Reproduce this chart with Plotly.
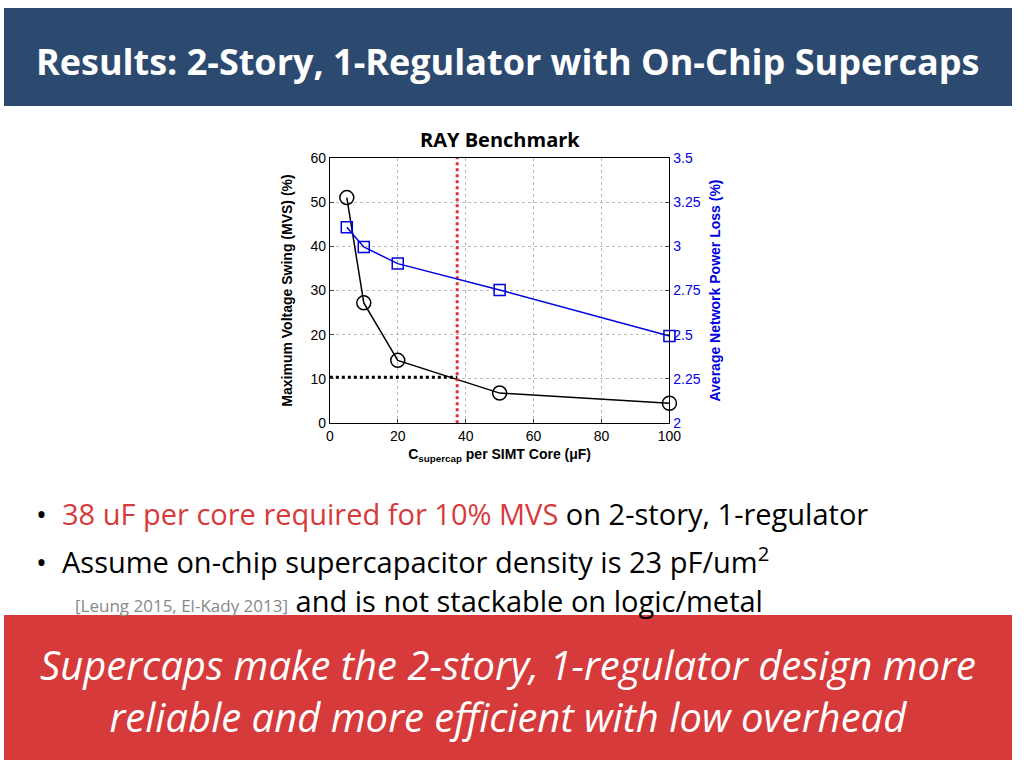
import plotly.graph_objects as go

cap = [5, 10, 20, 50, 100]
mvs = [51, 27.2, 14.2, 6.8, 4.5]
cap_b = [5, 10, 20, 50, 100]
loss = [3.107, 2.996, 2.902, 2.753, 2.493]
req_cap = 37.5
req_mvs = 10.4

W, H = 1024, 768
def px(x): return x / W
def py(y): return 1 - y / H

fig = go.Figure()
fig.add_trace(go.Scatter(x=cap, y=mvs, mode="lines+markers",
    line=dict(color="black", width=1.5),
    marker=dict(symbol="circle-open", size=14, color="black", line=dict(width=1.5)),
    yaxis="y", showlegend=False, cliponaxis=False))
fig.add_trace(go.Scatter(x=cap_b, y=loss, mode="lines+markers",
    line=dict(color="#0000E0", width=1.5),
    marker=dict(symbol="square-open", size=11, color="#0000E0", line=dict(width=1.5)),
    yaxis="y2", showlegend=False, cliponaxis=False))
fig.add_trace(go.Scatter(x=[req_cap, req_cap], y=[0, 60], mode="lines",
    line=dict(color="#E03030", width=3, dash="dot"), showlegend=False))
fig.add_trace(go.Scatter(x=[0, req_cap], y=[req_mvs, req_mvs], mode="lines",
    line=dict(color="black", width=3, dash="dot"), showlegend=False))

tf = dict(family="Arial", size=14, color="black")
fig.update_layout(
    width=W, height=H, margin=dict(l=0, r=0, t=0, b=0),
    paper_bgcolor="white", plot_bgcolor="white",
    xaxis=dict(domain=[px(331), px(676)], range=[0, 100], dtick=20,
        showgrid=True, gridcolor="#BBBBBB", griddash="dot", zeroline=False,
        showline=True, linecolor="black", mirror=True, ticks="inside", ticklen=4,
        tickfont=tf,
        title=dict(text="<b>C<sub>supercap</sub> per SIMT Core (μF)</b>", font=dict(family="Arial", size=14, color="black"), standoff=6)),
    yaxis=dict(domain=[py(424), py(153)], range=[0, 60], dtick=10,
        showgrid=True, gridcolor="#BBBBBB", griddash="dot", zeroline=False,
        showline=True, linecolor="black", ticks="inside", ticklen=4, tickfont=tf,
        title=dict(text="<b>Maximum Voltage Swing (MVS) (%)</b>", font=dict(family="Arial", size=14, color="black"), standoff=14)),
    yaxis2=dict(overlaying="y", side="right", anchor="x", range=[2, 3.5],
        tickvals=[2, 2.25, 2.5, 2.75, 3, 3.25, 3.5], ticktext=["2", "2.25", "2.5", "2.75", "3", "3.25", "3.5"],
        showgrid=False, zeroline=False, showline=True, linecolor="black",
        ticks="inside", ticklen=4, tickfont=dict(family="Arial", size=14, color="#0000E0"),
        title=dict(text="<b>Average Network Power Loss (%)</b>", font=dict(family="Arial", size=14, color="#0000E0"), standoff=10)),
    shapes=[
        dict(type="rect", xref="paper", yref="paper", x0=0, x1=1, y0=py(100), y1=1,
             fillcolor="#2C4A70", line=dict(width=0), layer="below"),
        dict(type="rect", xref="paper", yref="paper", x0=0, x1=1, y0=0, y1=py(620),
             fillcolor="#D63A3A", line=dict(width=0), layer="below"),
    ],
    annotations=[
        dict(text="<b>Results: 2-Story, 1-Regulator with On-Chip Supercaps</b>", x=0.5, y=py(55),
             xref="paper", yref="paper", yanchor="middle", showarrow=False, font=dict(family="Open Sans", size=36, color="white")),
        dict(text="<b>RAY Benchmark</b>", x=px(504), y=py(134), xref="paper", yref="paper", yanchor="middle", showarrow=False,
             font=dict(family="Open Sans", size=20, color="black")),
        dict(text="•  <span style='color:#D63A3A'>38 uF per core required for 10% MVS</span> on 2-story, 1-regulator",
             x=px(30), y=py(516), xref="paper", yref="paper", xanchor="left", yanchor="middle", showarrow=False,
             font=dict(family="Open Sans", size=29, color="black")),
        dict(text="•  Assume on-chip supercapacitor density is 23 pF/um<sup>2</sup>",
             x=px(30), y=py(564), xref="paper", yref="paper", xanchor="left", yanchor="middle", showarrow=False,
             font=dict(family="Open Sans", size=29, color="black")),
        dict(text="<span style='font-size:17px;color:#888888'>[Leung 2015, El-Kady 2013]</span> and is not stackable on logic/metal",
             x=px(70), y=py(605), xref="paper", yref="paper", xanchor="left", yanchor="middle", showarrow=False,
             font=dict(family="Open Sans", size=29, color="black")),
        dict(text="<i>Supercaps make the 2-story, 1-regulator design more<br>reliable and more efficient with low overhead</i>",
             x=0.5, y=py(697), xref="paper", yref="paper", yanchor="middle", showarrow=False,
             font=dict(family="Open Sans", size=40, color="white")),
    ],
)
fig.write_html("out.html", config={"displayModeBar": False},
    post_script="document.documentElement.style.margin='0';document.body.style.margin='0';document.body.style.padding='0';document.body.style.overflow='hidden';")
